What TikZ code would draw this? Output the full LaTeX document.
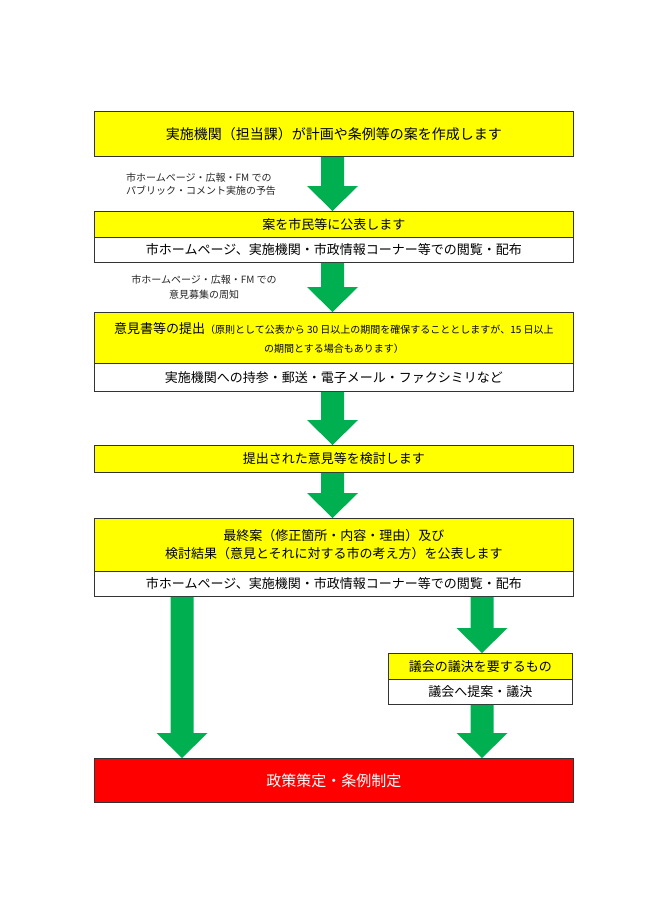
\documentclass[tikz,border=0pt]{standalone}
\usepackage{fontspec}
\setmainfont{Noto Sans CJK JP}
\usetikzlibrary{calc}
\definecolor{boxyellow}{HTML}{FFFF00}
\definecolor{arrowgreen}{HTML}{00B050}
\definecolor{boxred}{HTML}{FF0000}
\definecolor{edge}{HTML}{333333}
\newcommand\garrow[3]{%
  \path (#2) coordinate (gtop) (#3) coordinate (gbot);
  \fill[arrowgreen] let \p1=(gtop), \p2=(gbot) in
    (#1-11.5,\y1) -- (#1+11.5,\y1) -- (#1+11.5,\y2+25) -- (#1+25.5,\y2+25)
    -- (#1,\y2) -- (#1-25.5,\y2+25) -- (#1-11.5,\y2+25) -- cycle;}
\begin{document}
\begin{tikzpicture}[x=1pt,y=-1pt,
  panel/.style={draw=edge,line width=0.8pt,inner sep=0pt,anchor=north west,
    minimum width=479pt,align=center,text=black},
  ypanel/.style={panel,fill=boxyellow},
  wpanel/.style={panel,fill=white},
  note/.style={inner sep=0pt,text=black!85}]
\useasboundingbox[fill=white] (0,0) rectangle (650,919);

\node[ypanel,minimum height=45pt,font=\fontsize{14}{16}\selectfont] (b1) at (94,111) {実施機関（担当課）が計画や条例等の案を作成します};

\node[ypanel,minimum height=26pt,font=\fontsize{13}{15}\selectfont] (b2) at (94,211) {案を市民等に公表します};
\node[wpanel,minimum height=25pt,font=\fontsize{13}{15}\selectfont] (b2w) at (94,237) {市ホームページ、実施機関・市政情報コーナー等での閲覧・配布};

\node[ypanel,minimum height=51pt,font=\fontsize{10}{19}\selectfont] (b3) at (94,312) {{\fontsize{13}{19}\selectfont 意見書等の提出}（原則として公表から 30 日以上の期間を確保することとしますが、15 日以上\\の期間とする場合もあります）};
\node[wpanel,minimum height=28pt,font=\fontsize{13}{15}\selectfont] (b3w) at (94,363) {実施機関への持参・郵送・電子メール・ファクシミリなど};

\node[ypanel,minimum height=27pt,font=\fontsize{13}{15}\selectfont] (b4) at (94,445) {提出された意見等を検討します};

\node[ypanel,minimum height=53pt,font=\fontsize{13}{18}\selectfont] (b5) at (94,518) {最終案（修正箇所・内容・理由）及び\\検討結果（意見とそれに対する市の考え方）を公表します};
\node[wpanel,minimum height=25pt,font=\fontsize{13}{15}\selectfont] (b5w) at (94,571) {市ホームページ、実施機関・市政情報コーナー等での閲覧・配布};

\node[ypanel,minimum width=184pt,minimum height=26pt,font=\fontsize{13}{15}\selectfont] (b6) at (388,653) {議会の議決を要するもの};
\node[wpanel,minimum width=184pt,minimum height=25pt,font=\fontsize{13}{15}\selectfont] (b6w) at (388,679) {議会へ提案・議決};

\node[panel,fill=boxred,text=white,minimum height=44pt,font=\fontsize{15}{17}\selectfont] (b7) at (94,758) {政策策定・条例制定};

\node[note,align=left,anchor=west,font=\fontsize{10}{13}\selectfont] (n1) at (126,184.5) {市ホームページ・広報・FM での\\パブリック・コメント実施の予告};
\node[note,align=center,font=\fontsize{10}{15}\selectfont] (n2) at (204,287.5) {市ホームページ・広報・FM での\\意見募集の周知};

\garrow{332.5}{b1.south}{b2.north}
\garrow{332.5}{b2w.south}{b3.north}
\garrow{332.5}{b3w.south}{b4.north}
\garrow{332.5}{b4.south}{b5.north}
\garrow{182}{b5w.south}{b7.north}
\garrow{482}{b5w.south}{b6.north}
\garrow{482}{b6w.south}{b7.north}
\end{tikzpicture}
\end{document}
